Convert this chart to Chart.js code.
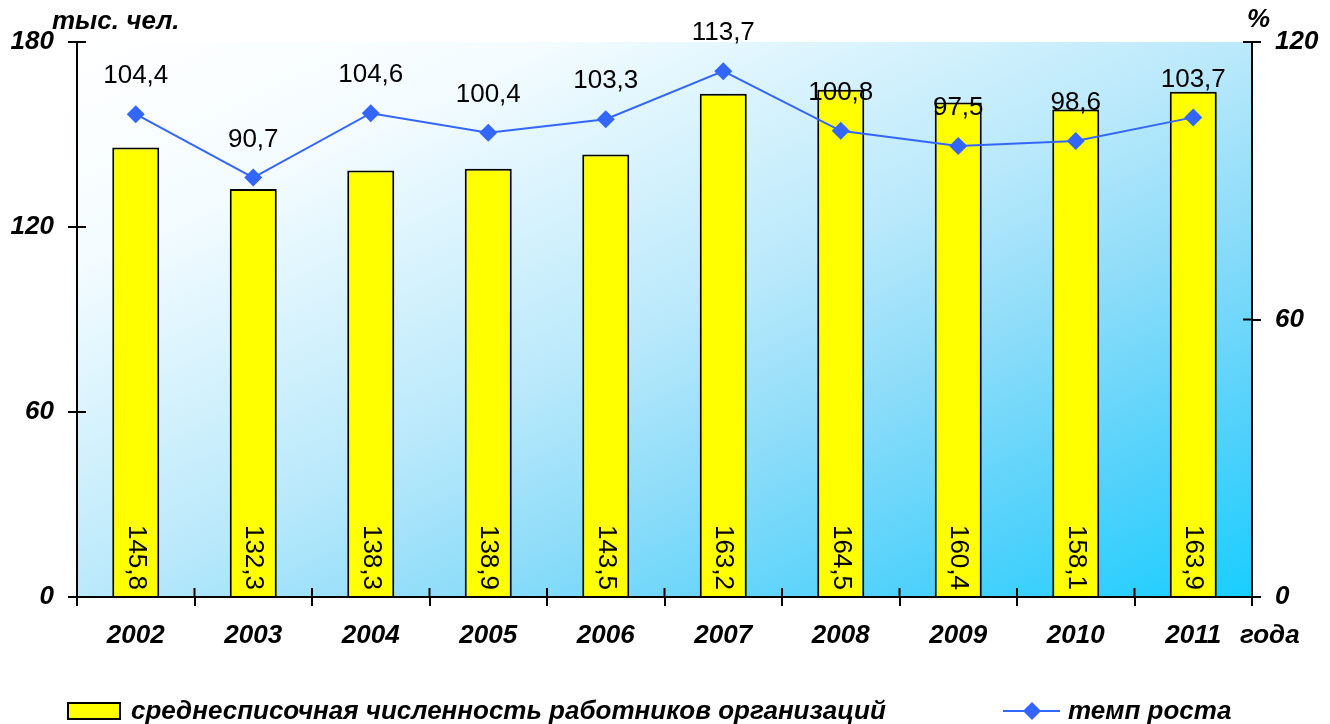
<!DOCTYPE html>
<html>
<head>
<meta charset="utf-8">
<script src="https://cdn.jsdelivr.net/npm/chart.js@4/dist/chart.umd.min.js"></script>
<style>
  html, body { margin: 0; padding: 0; background: #fff; }
  #wrap { width: 1330px; height: 724px; }
</style>
</head>
<body>
<div id="wrap"><canvas id="chart"></canvas></div>
<script>
var years = ["2002", "2003", "2004", "2005", "2006", "2007", "2008", "2009", "2010", "2011"];
var workers = [145.8, 132.3, 138.3, 138.9, 143.5, 163.2, 164.5, 160.4, 158.1, 163.9];
var growth = [104.4, 90.7, 104.6, 100.4, 103.3, 113.7, 100.8, 97.5, 98.6, 103.7];
var leftTicks = [0, 60, 120, 180];
var rightTicks = [0, 60, 120];

var FONT = "'Liberation Sans', Arial, sans-serif";
var SIZE = 26;

function fmt(v) {
    return v.toFixed(1).replace('.', ',');
}

var extras = {
    id: 'extras',
    beforeDraw: function (chart) {
        var ctx = chart.ctx, a = chart.chartArea;
        ctx.save();
        // diagonal gradient stretched to the plot box
        ctx.translate(a.left, a.top);
        ctx.scale(a.right - a.left, a.bottom - a.top);
        var g = ctx.createLinearGradient(0, 0, 1, 1);
        g.addColorStop(0, '#ffffff');
        g.addColorStop(0.2, '#f4fcff');
        g.addColorStop(0.5, '#bae9fb');
        g.addColorStop(0.65, '#90ddf9');
        g.addColorStop(0.85, '#4ed1fb');
        g.addColorStop(1, '#18ceff');
        ctx.fillStyle = g;
        ctx.fillRect(0, 0, 1, 1);
        ctx.restore();
    },
    afterDraw: function (chart) {
        var ctx = chart.ctx, a = chart.chartArea;
        var y = chart.scales.y, y1 = chart.scales.y1;
        ctx.save();
        ctx.strokeStyle = '#000';
        ctx.lineWidth = 2;
        // inner halves of tick marks
        ctx.beginPath();
        for (var i = 0; i <= years.length; i++) {
            var px = a.left + (a.right - a.left) * i / years.length;
            ctx.moveTo(px, a.bottom);
            ctx.lineTo(px, a.bottom - 9);
        }
        leftTicks.forEach(function (t) {
            var py = y.getPixelForValue(t);
            ctx.moveTo(a.left, py);
            ctx.lineTo(a.left + 9, py);
        });
        rightTicks.forEach(function (t) {
            var py = y1.getPixelForValue(t);
            ctx.moveTo(a.right, py);
            ctx.lineTo(a.right - 9, py);
        });
        ctx.stroke();

        // bar value labels (rotated)
        ctx.fillStyle = '#000';
        ctx.font = SIZE + 'px ' + FONT;
        chart.getDatasetMeta(0).data.forEach(function (bar, i) {
            ctx.save();
            ctx.translate(bar.x, a.bottom - 7);
            ctx.rotate(Math.PI / 2);
            ctx.textAlign = 'right';
            ctx.textBaseline = 'middle';
            ctx.fillText(fmt(workers[i]), 0, 0);
            ctx.restore();
        });

        // line value labels
        ctx.textAlign = 'center';
        ctx.textBaseline = 'middle';
        chart.getDatasetMeta(1).data.forEach(function (pt, i) {
            ctx.fillText(fmt(growth[i]), pt.x, pt.y - 38);
        });

        // axis titles
        ctx.font = 'bold italic ' + SIZE + 'px ' + FONT;
        ctx.textAlign = 'left';
        ctx.fillText('тыс. чел.', 52, 22);
        ctx.fillText('%', 1247, 20);
        ctx.fillText('года', 1240, 636);

        // legend
        ctx.fillStyle = '#ffff00';
        ctx.fillRect(68, 703, 52, 16);
        ctx.lineWidth = 2;
        ctx.strokeRect(68, 703, 52, 16);
        ctx.fillStyle = '#000';
        ctx.fillText('среднесписочная численность работников организаций', 131, 712);
        ctx.strokeStyle = '#3366ff';
        ctx.beginPath();
        ctx.moveTo(1003, 711);
        ctx.lineTo(1060, 711);
        ctx.stroke();
        ctx.fillStyle = '#3366ff';
        ctx.beginPath();
        ctx.moveTo(1032, 702);
        ctx.lineTo(1041, 711);
        ctx.lineTo(1032, 720);
        ctx.lineTo(1023, 711);
        ctx.closePath();
        ctx.fill();
        ctx.fillStyle = '#000';
        ctx.fillText('темп роста', 1068, 712);
        ctx.restore();
    }
};

var tickFont = { family: FONT, size: SIZE, style: 'italic', weight: 'bold' };

new Chart(document.getElementById('chart').getContext('2d'), {
    type: 'bar',
    data: {
        labels: years,
        datasets: [{
            type: 'bar',
            label: 'среднесписочная численность работников организаций',
            data: workers,
            yAxisID: 'y',
            backgroundColor: '#ffff00',
            borderColor: '#000000',
            borderWidth: 2,
            barPercentage: 0.4,
            categoryPercentage: 1.0,
            order: 2
        }, {
            type: 'line',
            label: 'темп роста',
            data: growth,
            yAxisID: 'y1',
            borderColor: '#3366ff',
            backgroundColor: '#3366ff',
            borderWidth: 2,
            pointStyle: 'rectRot',
            pointRadius: 9,
            pointHoverRadius: 9,
            pointBorderWidth: 0,
            tension: 0,
            order: 1
        }]
    },
    options: {
        responsive: true,
        maintainAspectRatio: false,
        animation: false,
        layout: { padding: { top: 42, left: 0, right: 0, bottom: 0 } },
        plugins: {
            legend: { display: false },
            tooltip: { enabled: false }
        },
        scales: {
            x: {
                offset: true,
                grid: { display: true, drawOnChartArea: false, offset: true, color: '#000', lineWidth: 2, tickLength: 9 },
                border: { display: true, color: '#000', width: 2 },
                ticks: { color: '#000', font: tickFont, padding: 14, maxRotation: 0 },
                afterFit: function (s) { s.height = 127; }
            },
            y: {
                position: 'left',
                min: 0, max: 180,
                afterBuildTicks: function (s) { s.ticks = leftTicks.map(function (v) { return { value: v }; }); },
                grid: { drawOnChartArea: false, color: '#000', lineWidth: 2, tickLength: 9 },
                border: { display: true, color: '#000', width: 2 },
                ticks: { color: '#000', font: tickFont, padding: 14 },
                afterFit: function (s) { s.width = 77; }
            },
            y1: {
                position: 'right',
                min: 0, max: 120,
                afterBuildTicks: function (s) { s.ticks = rightTicks.map(function (v) { return { value: v }; }); },
                grid: { drawOnChartArea: false, color: '#000', lineWidth: 2, tickLength: 9 },
                border: { display: true, color: '#000', width: 2 },
                ticks: { color: '#000', font: tickFont, padding: 14 },
                afterFit: function (s) { s.width = 78; }
            }
        }
    },
    plugins: [extras]
});
</script>
</body>
</html>
